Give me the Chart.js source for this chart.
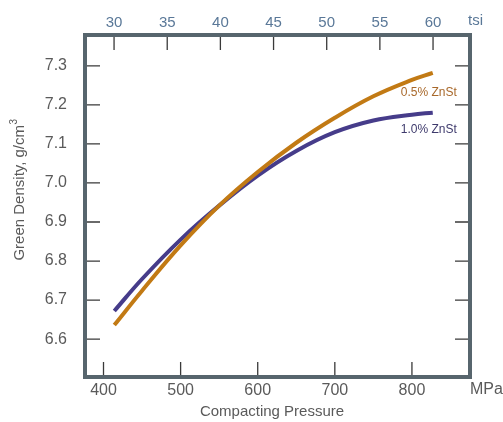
<!DOCTYPE html>
<html><head><meta charset="utf-8">
<script src="https://cdn.jsdelivr.net/npm/chart.js@4.4.1/dist/chart.umd.min.js"></script>
<style>html,body{margin:0;padding:0;background:#fff}#wrap{width:503px;height:422px;position:relative}</style>
</head><body><div id="wrap"><canvas id="c"></canvas></div>
<script>
// ---- data ----
const pressureMPa = [414, 450, 500, 550, 600, 650, 700, 750, 800, 827];
const density05 = [6.636, 6.724, 6.840, 6.942, 7.028, 7.103, 7.167, 7.222, 7.264, 7.282];
const density10 = [6.672, 6.754, 6.855, 6.942, 7.019, 7.082, 7.130, 7.160, 7.175, 7.180];
const seriesNames = ['0.5% ZnSt', '1.0% ZnSt'];
const mpaTicks = [400, 500, 600, 700, 800];
const tsiTicks = [30, 35, 40, 45, 50, 55, 60];
const densityTicks = [6.6, 6.7, 6.8, 6.9, 7.0, 7.1, 7.2, 7.3];
const MPA_PER_TSI = 13.7895;
const X_MIN = 376, X_MAX = 875.3, Y_MIN = 6.503, Y_MAX = 7.379;

// ---- styles ----
const FONT = "'Liberation Sans', Arial, sans-serif";
const FRAME = '#57656d';
const ORANGE = '#c27a14';
const PURPLE = '#463c8a';
const GRAY = '#5a5a5a';
const BLUE = '#5a7898';

const toXY = (xs, ys) => xs.map((x, i) => ({x: x, y: ys[i]}));
const setTicks = arr => s => { s.ticks = arr.map(v => ({value: v})); };
const border = {display: true, width: 4, color: FRAME};
const grid = {display: false, drawTicks: false, lineWidth: 4};

const innerTicks = {
  id: 'innerTicks',
  afterDatasetsDraw(chart) {
    const ctx = chart.ctx, a = chart.chartArea, L = 13;
    ctx.save();
    ctx.strokeStyle = '#3a3a3a';
    ctx.lineWidth = 1.3;
    ctx.beginPath();
    chart.scales.x.ticks.forEach(t => { const p = chart.scales.x.getPixelForValue(t.value); ctx.moveTo(p, a.bottom - 2); ctx.lineTo(p, a.bottom - 2 - L); });
    chart.scales.x2.ticks.forEach(t => { const p = chart.scales.x2.getPixelForValue(t.value); ctx.moveTo(p, a.top + 2); ctx.lineTo(p, a.top + 2 + L); });
    chart.scales.y.ticks.forEach(t => { const p = chart.scales.y.getPixelForValue(t.value); ctx.moveTo(a.left + 2, p); ctx.lineTo(a.left + 2 + L, p); });
    chart.scales.y2.ticks.forEach(t => { const p = chart.scales.y2.getPixelForValue(t.value); ctx.moveTo(a.right - 2, p); ctx.lineTo(a.right - 2 - L, p); });
    ctx.stroke();
    ctx.restore();
  }
};

const texts = {
  id: 'texts',
  afterDraw(chart) {
    const ctx = chart.ctx, xs = chart.scales.x, ys = chart.scales.y;
    ctx.save();
    ctx.textBaseline = 'middle';
    // units
    ctx.font = '15px ' + FONT; ctx.fillStyle = BLUE; ctx.textAlign = 'left';
    ctx.fillText('tsi', 468, 21);
    ctx.font = '16px ' + FONT; ctx.fillStyle = GRAY;
    ctx.fillText('MPa', 470, 390);
    // x title
    ctx.textAlign = 'center';
    ctx.font = '15px ' + FONT;
    ctx.fillText('Compacting Pressure', 272, 412);
    // y title with superscript
    ctx.save();
    ctx.translate(20, 190);
    ctx.rotate(-Math.PI / 2);
    ctx.font = '15px ' + FONT;
    const main = 'Green Density, g/cm';
    const w1 = ctx.measureText(main).width;
    ctx.font = '10px ' + FONT;
    const w2 = ctx.measureText('3').width;
    const start = -(w1 + w2) / 2;
    ctx.textAlign = 'left';
    ctx.font = '15px ' + FONT;
    ctx.fillText(main, start, 0);
    ctx.font = '10px ' + FONT;
    ctx.fillText('3', start + w1 + 0.5, -6);
    ctx.restore();
    // series labels
    ctx.font = '12px ' + FONT;
    ctx.textAlign = 'left';
    const n = pressureMPa.length - 1;
    const lx = xs.getPixelForValue(pressureMPa[n]) - 32;
    ctx.fillStyle = '#a8682a';
    ctx.fillText(seriesNames[0], lx, ys.getPixelForValue(density05[n]) + 20);
    ctx.fillStyle = '#3e3a6c';
    ctx.fillText(seriesNames[1], lx, ys.getPixelForValue(density10[n]) + 17);
    ctx.restore();
  }
};

new Chart(document.getElementById('c'), {
  type: 'line',
  data: {
    datasets: [
      {label: seriesNames[0], data: toXY(pressureMPa, density05), borderColor: ORANGE, borderWidth: 4, pointRadius: 0, tension: 0.4, borderCapStyle: 'butt'},
      {label: seriesNames[1], data: toXY(pressureMPa, density10), borderColor: PURPLE, borderWidth: 4, pointRadius: 0, tension: 0.4, borderCapStyle: 'butt'}
    ]
  },
  options: {
    responsive: true,
    maintainAspectRatio: false,
    animation: false,
    layout: {padding: 0},
    plugins: {legend: {display: false}, tooltip: {enabled: false}},
    scales: {
      x: {
        type: 'linear', position: 'bottom', min: X_MIN, max: X_MAX,
        afterBuildTicks: setTicks(mpaTicks),
        afterFit: s => { s.height = 45; },
        ticks: {font: {size: 16, family: FONT}, color: GRAY, padding: 4, maxRotation: 0, autoSkip: false},
        grid: grid, border: border
      },
      x2: {
        type: 'linear', position: 'top', min: X_MIN / MPA_PER_TSI, max: X_MAX / MPA_PER_TSI,
        afterBuildTicks: setTicks(tsiTicks),
        afterFit: s => { s.height = 35; },
        ticks: {font: {size: 15, family: FONT}, color: BLUE, padding: 3, maxRotation: 0, autoSkip: false},
        grid: grid, border: border
      },
      y: {
        type: 'linear', position: 'left', min: Y_MIN, max: Y_MAX,
        afterBuildTicks: setTicks(densityTicks),
        afterFit: s => { s.width = 85; },
        ticks: {font: {size: 16, family: FONT}, color: GRAY, padding: 18, callback: v => v.toFixed(1)},
        grid: grid, border: border
      },
      y2: {
        type: 'linear', position: 'right', min: Y_MIN, max: Y_MAX,
        afterBuildTicks: setTicks(densityTicks),
        afterFit: s => { s.width = 33; },
        ticks: {display: false},
        grid: grid, border: border
      }
    }
  },
  plugins: [innerTicks, texts]
});
</script>
</body></html>
